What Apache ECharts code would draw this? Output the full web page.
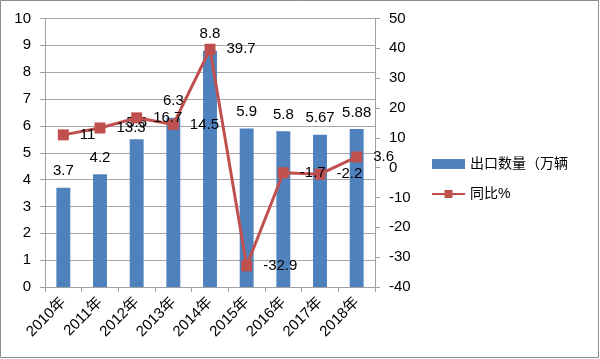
<!DOCTYPE html>
<html><head><meta charset="utf-8">
<script src="https://cdn.jsdelivr.net/npm/echarts@6/dist/echarts.min.js"></script>
<style>html,body{margin:0;padding:0;background:#fff}#c{width:600px;height:359px}</style>
</head><body><div id="c"></div>
<script>
const categories = ['2010年','2011年','2012年','2013年','2014年','2015年','2016年','2017年','2018年'];
const exportVolume = [3.7, 4.2, 5.5, 6.3, 8.8, 5.9, 5.8, 5.67, 5.88];
const yoyPercent = [11, 13.3, 16.7, 14.5, 39.7, -32.9, -1.7, -2.2, 3.6];
const barName = '出口数量（万辆';
const lineName = '同比%';

const FONT = '"Liberation Sans", "Noto Sans CJK SC", sans-serif';
const chart = echarts.init(document.getElementById('c'), null, {renderer:'canvas'});
chart.setOption({
  animation: false,
  backgroundColor: '#fff',
  textStyle: {fontFamily: FONT},
  graphic: [{type:'rect', shape:{x:0.5,y:0.5,width:598,height:357}, style:{fill:'none', stroke:'#8c8c8c', lineWidth:1}, silent:true}],
  grid: {left:45, right:225, top:18.5, bottom:72},
  legend: {
    orient:'vertical', left:426, top:152, itemWidth:33, itemHeight:10, itemGap:16,
    textStyle:{fontSize:14, color:'#000', fontFamily:FONT},
    data:[{name:barName, icon:'rect'}, {name:lineName}]
  },
  xAxis: {
    type:'category', data:categories,
    axisLine:{lineStyle:{color:'#a0a0a0'}},
    axisTick:{show:true, length:5, lineStyle:{color:'#a0a0a0'}},
    axisLabel:{rotate:45, fontSize:15, color:'#000', margin:13, interval:0, fontFamily:FONT}
  },
  yAxis: [{
    type:'value', min:0, max:10, interval:1,
    axisLine:{show:true, lineStyle:{color:'#a0a0a0'}},
    axisTick:{show:true, length:5, lineStyle:{color:'#a0a0a0'}},
    axisLabel:{fontSize:15, color:'#000', margin:14, fontFamily:FONT},
    splitLine:{lineStyle:{color:'#a6a6a6'}}
  },{
    type:'value', min:-40, max:50, interval:10,
    axisLine:{show:true, lineStyle:{color:'#a0a0a0'}},
    axisTick:{show:true, length:5, lineStyle:{color:'#a0a0a0'}},
    axisLabel:{fontSize:15, color:'#000', margin:14, fontFamily:FONT},
    splitLine:{show:false}
  }],
  series: [{
    name:barName, type:'bar', data:exportVolume, barWidth:'38%',
    itemStyle:{color:'#4F81BD'},
    label:{show:true, position:'top', distance:9, fontSize:15, color:'#000', fontFamily:FONT}
  },{
    name:lineName, type:'line', yAxisIndex:1, data:yoyPercent,
    symbol:'rect', symbolSize:11,
    lineStyle:{color:'#C0504D', width:3},
    itemStyle:{color:'#C0504D'},
    label:{show:true, position:'right', distance:11, fontSize:15, color:'#000', fontFamily:FONT}
  }]
});
</script></body></html>
